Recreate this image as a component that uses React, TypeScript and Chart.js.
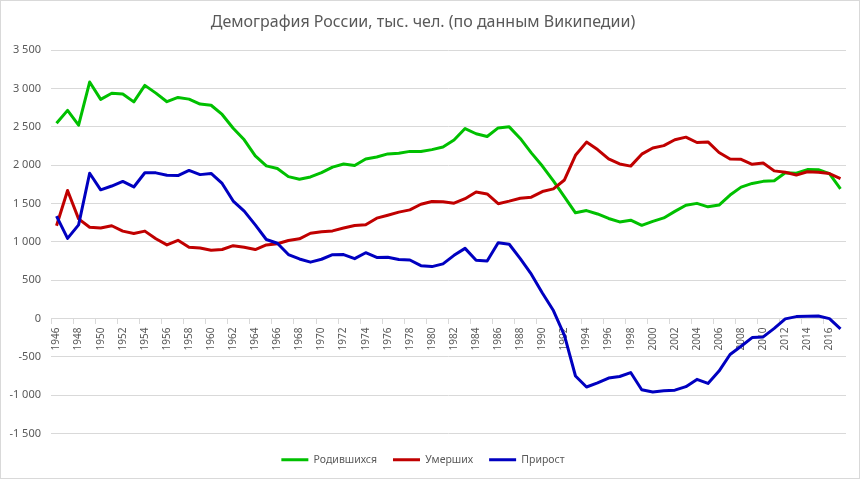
import React, { useEffect, useRef } from "react";
import { Chart, registerables } from "chart.js";

Chart.register(...registerables);

const years: string[] = [
  "1946","1947","1948","1949","1950","1951","1952","1953","1954","1955",
  "1956","1957","1958","1959","1960","1961","1962","1963","1964","1965",
  "1966","1967","1968","1969","1970","1971","1972","1973","1974","1975",
  "1976","1977","1978","1979","1980","1981","1982","1983","1984","1985",
  "1986","1987","1988","1989","1990","1991","1992","1993","1994","1995",
  "1996","1997","1998","1999","2000","2001","2002","2003","2004","2005",
  "2006","2007","2008","2009","2010","2011","2012","2013","2014","2015",
  "2016","2017",
];

const births: number[] = [
  2546, 2715, 2522, 3085, 2859, 2938, 2928, 2826, 3041, 2940,
  2828, 2884, 2862, 2797, 2782, 2662, 2482, 2331, 2121, 1991,
  1957, 1851, 1817, 1847, 1904, 1975, 2015, 1995, 2080, 2106,
  2147, 2157, 2180, 2179, 2203, 2237, 2328, 2478, 2410, 2375,
  2486, 2500, 2349, 2161, 1989, 1795, 1588, 1379, 1408, 1364,
  1305, 1260, 1283, 1215, 1267, 1312, 1397, 1477, 1502, 1457,
  1480, 1610, 1714, 1762, 1789, 1797, 1902, 1896, 1943, 1941,
  1889, 1690,
];

const deaths: number[] = [
  1210, 1670, 1300, 1190, 1180, 1210, 1140, 1110, 1140, 1040,
  960, 1020, 930, 920, 890, 900, 950, 930, 900, 960,
  975, 1017, 1040, 1112, 1131, 1143, 1181, 1214, 1222, 1309,
  1347, 1388, 1417, 1490, 1526, 1524, 1504, 1563, 1650, 1625,
  1498, 1531, 1569, 1583, 1656, 1691, 1807, 2129, 2301, 2204,
  2082, 2016, 1988, 2144, 2225, 2255, 2332, 2366, 2296, 2304,
  2166, 2080, 2076, 2011, 2029, 1926, 1907, 1871, 1914, 1908,
  1891, 1826,
];

const growth: number[] = [
  1336, 1045, 1222, 1895, 1679, 1728, 1788, 1716, 1901, 1900,
  1868, 1864, 1932, 1877, 1892, 1762, 1532, 1401, 1221, 1031,
  982, 834, 777, 735, 773, 832, 834, 781, 858, 797,
  800, 769, 763, 689, 677, 713, 824, 915, 760, 750,
  988, 969, 780, 578, 333, 104, -219, -750, -893, -840,
  -777, -756, -705, -929, -958, -943, -935, -889, -794, -847,
  -686, -470, -362, -249, -240, -129, -5, 25, 29, 33,
  -2, -136,
];

const seriesNames: string[] = ["Родившихся", "Умерших", "Прирост"];
const titleText = "Демография России, тыс. чел. (по данным Википедии)";

const FONT = "'Noto Sans', sans-serif";
const TEXT = "#595959";
const GRID = "#D9D9D9";

function fmt(v: number): string {
  const s = Math.abs(v).toString();
  const withSep = s.length > 3 ? s.slice(0, s.length - 3) + " " + s.slice(s.length - 3) : s;
  return (v < 0 ? "-" : "") + withSep;
}

export default function App() {
  const ref = useRef<HTMLCanvasElement | null>(null);

  useEffect(() => {
    document.body.style.margin = "0";
    const canvas = ref.current!;
    const borderPlugin = {
      id: "outerBorder",
      afterDraw(chart: any) {
        const c = chart.ctx;
        c.save();
        c.strokeStyle = GRID;
        c.lineWidth = 1;
        c.strokeRect(0.5, 0.5, chart.width - 1, chart.height - 1);
        c.restore();
      },
    };
    const mk = (label: string, data: number[], color: string, order: number) => ({
      label,
      data,
      borderColor: color,
      backgroundColor: color,
      borderWidth: 3,
      pointRadius: 0,
      borderJoinStyle: "round",
      order,
    });
    const chart = new Chart(canvas, {
      type: "line",
      data: {
        labels: years,
        datasets: [
          mk(seriesNames[0], births, "#00C000", 3),
          mk(seriesNames[1], deaths, "#C00000", 2),
          mk(seriesNames[2], growth, "#0000C0", 1),
        ],
      },
      options: {
        responsive: false,
        animation: false,
        devicePixelRatio: 1,
        layout: { padding: { left: 0, right: 14, top: 0, bottom: 4 } },
        plugins: {
          title: {
            display: true,
            text: titleText,
            color: TEXT,
            font: { family: FONT, size: 16, weight: "normal" },
            padding: { top: 13, bottom: 18 },
          },
          legend: {
            position: "bottom",
            labels: {
              color: TEXT,
              font: { family: FONT, size: 10.5 },
              boxWidth: 27,
              boxHeight: 3,
              padding: 16,
              sort: (a: any, b: any) => a.datasetIndex - b.datasetIndex,
              generateLabels: (ch: any) => {
                const items = Chart.defaults.plugins.legend.labels.generateLabels(ch);
                return items.map((it: any) => ({ ...it, lineWidth: 0 }));
              },
            },
          },
          tooltip: { enabled: false },
        },
        scales: {
          x: {
            type: "category",
            position: { y: 0 } as any,
            offset: true,
            grid: {
              offset: true,
              drawOnChartArea: false,
              drawTicks: true,
              tickLength: 5,
              tickColor: (ctx: any) => (ctx.index % 2 === 0 ? GRID : "rgba(0,0,0,0)"),
            },
            border: { display: true, color: GRID, width: 1 },
            ticks: {
              autoSkip: false,
              minRotation: 90,
              maxRotation: 90,
              padding: 4,
              color: TEXT,
              font: { family: FONT, size: 10 },
              callback: (_v: any, i: number) => (i % 2 === 0 ? years[i] : ""),
            },
          },
          xPad: {
            type: "category",
            position: "bottom",
            display: true,
            grid: { display: false, drawTicks: false },
            border: { display: false },
            ticks: { display: false },
            afterFit: (scale: any) => {
              scale.height = 5;
            },
          },
          y: {
            min: -1500,
            max: 3500,
            grid: { color: GRID, drawTicks: false },
            border: { display: false },
            ticks: {
              stepSize: 500,
              padding: 10,
              color: TEXT,
              font: { family: FONT, size: 11 },
              callback: (v: any) => fmt(Number(v)),
            },
            afterFit: (scale: any) => {
              scale.width = 51;
            },
          },
        },
      },
      plugins: [borderPlugin],
    } as any);
    return () => chart.destroy();
  }, []);

  return (
    <div style={{ width: 860, height: 479, background: "#fff" }}>
      <canvas ref={ref} width={860} height={479} style={{ display: "block" }} />
    </div>
  );
}
